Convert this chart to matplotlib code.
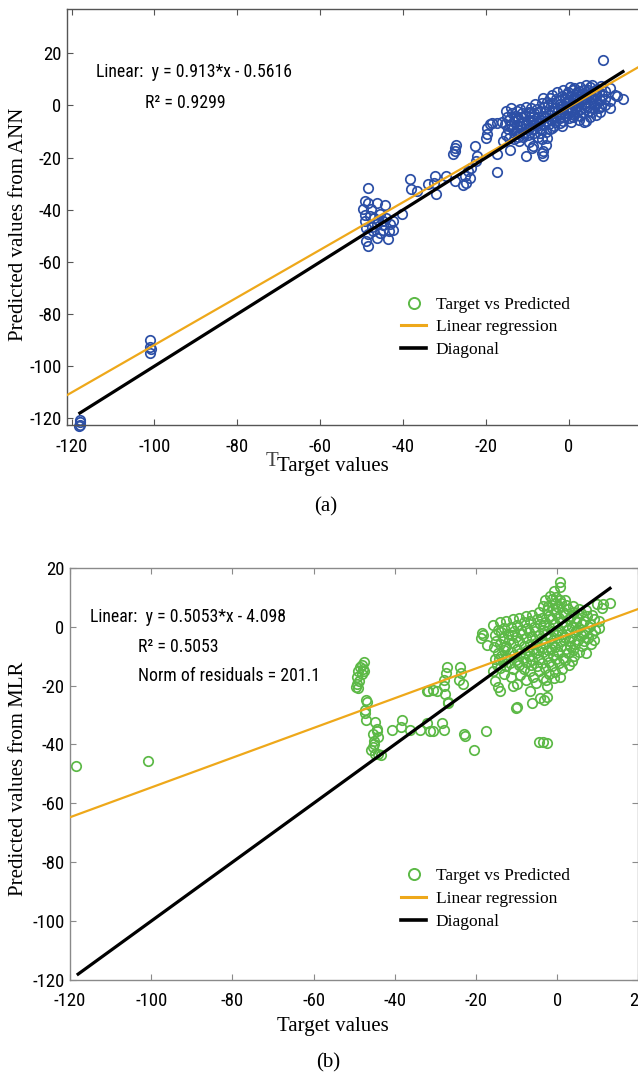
import matplotlib
matplotlib.use("Agg")
import matplotlib.pyplot as plt
from matplotlib import font_manager
from matplotlib.font_manager import FontProperties
from matplotlib.lines import Line2D

plt.rcParams["axes.unicode_minus"] = False

# ---- data ----
# (a) ANN: target vs predicted
ann_x = [-118, -118, -118.3, -118,
         -101, -101, -101, -100.8,
         -48.5, -49.3, -49.6, -49.3, -48.5, -47.7, -46.4, -44.4, -45.6, -49.3, -49, -48.5,
         -48.5, -47.3, -46.4, -44.9, -44.1, -43.2, -42.4, -43.6, -46.4, -44.9, -45.5, -40.4,
         -47, -48, -45, -46, -43.5, -47.5, -49, -42.5,
         -38.4, -38.2, -36.8, -34, -32.4, -32.5, -32, -29.6, -27.6, -27.2, -27.9, -27.4,
         -27.6, -25.1, -24.9, -24.3, -23.6, -22.7, -22.3, -22.5, -24, -25.5,
         -19.9, -19.7, -18.7, -17.5, -20.1, -16.2, -17.5, -17.5, -15.9, -19,
         -15.2, -14.9, -15.4, -14.8, -15.1,
         -14.1, -14.6, -14.2, -14.5, -14.3,
         -13.7, -13.3, -13.6, -13.2, -13.4,
         -12.5, -12.9, -12.6, -12.8, -12.4,
         -11.8, -12.2, -11.9, -12.1, -12,
         -11.4, -11, -11.3, -11.1,
         -10.3, -10.7, -10.4, -10.6, -10.3,
         -9.6, -10, -9.7, -9.9, -9.6,
         -9.2, -8.8, -9.1, -8.9, -9,
         -8.1, -8.5, -8.2, -8.4, -8.6,
         -7.8, -7.4, -7.7, -7.5,
         -6.6, -7, -6.7, -6.9, -6.6, -6.6,
         -6.2, -6, -6.4, -6.1, -6.2, -6.4,
         -5.3, -5.7, -5.4, -5.6, -5.4, -5.6,
         -4.6, -5, -4.7, -4.9, -4.6,
         -4.2, -3.8, -4.1, -3.9, -4.2,
         -3.1, -3.5, -3.2, -3.4,
         -2.8, -2.4, -2.7, -2.5, -2.2,
         -1.8, -2.2, -1.9, -2.1, -1.8,
         -1.5, -1.1, -1.4, -1.2, -1.5,
         -0.4, -0.8, -0.5, -0.7,
         0.2, -0.2, 0.1, -0.1, 0.2, 0,
         0.9, 0.5, 0.8, 0.6, 0.9,
         1.2, 1.6, 1.3, 1.5, 1.2,
         2.3, 1.9, 2.2, 2, 2.3,
         2.6, 3, 2.7, 2.9, 2.6,
         3.7, 3.3, 3.6, 3.4, 3.7,
         4, 4.4, 4.1, 4.3, 4.2,
         5.1, 4.7, 5, 4.8, 5.1,
         5.6, 6, 5.7, 5.9, 5.6,
         6.8, 6.4, 6.7, 6.5,
         7.1, 7.5, 7.2, 7.4,
         7.8, 8, 7.8,
         -13, -11.5, -10, -8.7, -7.2, -5.8, -4.4, -3, -1.7, -0.3, 1, 2.5,
         3.9, 5.3, 6.2, -14, -12.3, -9.4, -7, -3.7, 0.4, 2, 4.6, 6,
         8.2,
         8.7, 8.7, 8.7,
         9.8, 9.8, 9.8,
         11, 11.5, 13]
ann_y = [-121.5, -122.5, -123, -120.8,
         -90, -92.5, -95, -93.5,
         -31.6, -36.7, -39.9, -41.9, -37.3, -39.9, -37.4, -38, -41.8, -44.4, -47, -49.5,
         -54, -48.2, -45.6, -44.4, -43.1, -45.6, -47.6, -51.4, -50.8, -47.6, -49, -41.8,
         -43, -42.5, -46, -44, -48, -46.5, -52, -44.5,
         -28.4, -32.2, -32.9, -30.3, -27.1, -29.7, -34.1, -27.1, -16.3, -15, -18.8, -17.5,
         -29, -27.1, -29.7, -25.2, -23.9, -15.6, -19.4, -21.3, -28, -30.5,
         -11.1, -8.5, -6.6, -6.6, -12.4, -6.5, -18.8, -25.5, -13.7, -7.2,
         -2, -4.5, -7, -9, -11.5,
         -1, -5.5, -8, -12.5, -16.9,
         -3, -6, -8.5, -10.5, -13,
         -2, -4, -7.5, -10, -12,
         -1.5, -5, -8, -11, -13.7,
         -3, -6.5, -9, -12,
         -0.5, -4, -7, -10, -19.4,
         -2.5, -5.5, -8.5, -11.5, -14,
         -1, -4, -6, -9, -16.3,
         0.5, -3, -7, -10.5, -15.6,
         -1.5, -4.5, -8, -12,
         1, -2, -5.5, -9, -13, -18.2,
         2.9, -0.5, -4, -7.5, -17.5, -19.5,
         1.5, -2.5, -6, -10, -12.4, -15,
         3, 0, -3.5, -7, -9,
         4, 1, -2, -5, -8.5,
         2.5, -1, -4, -6.5,
         5, 2, -1.5, -3.5, -6.7,
         3.5, 0.5, -2.5, -5, -8,
         6, 3, 0, -3, -6,
         4.5, 1.5, -1, -4,
         7, 5, 2, -0.5, -2.5, -5,
         6, 3.5, 1, -2, -4.5,
         6.8, 4, 2, -1, -3.5,
         5.5, 3, 0, -2.5, -5.5,
         7, 4.5, 1.5, -1.5, -4,
         6, 3, 0.5, -3, -6.5,
         8, 5, 2.5, -0.5, -6,
         7, 4, 1, -2, -4.5,
         8, 5.5, 3, 0, -2.5,
         6.5, 3.5, 1, -3.5,
         5, 2, -1, -2.5,
         7.5, 4, -0.3,
         -5, -4.5, -9.5, -5.5, -6.5, -4.5, -5.5, -2.5, -1.5, 1, 0, 2.5,
         1, 2.5, 4.5, -7, -9.5, -3, -10.5, -8, -6.5, 5, 6, -1,
         17.6,
         5.5, 2.5, 0,
         6.8, 1.6, -0.9,
         4.2, 3.6, 2.3]

# (b) MLR: target vs predicted
mlr_x = [-118.6, -100.9,
         -48.5, -49.3, -49, -47.6, -49, -48.2, -48.8, -47.9, -49.2, -48, -47.5, -49.5,
         -47, -47.4, -46.9, -47.3, -47.2, -44.8, -44.4, -45.3, -45.2, -45.4, -44.8, -44.1,
         -43.5, -44.5, -45, -44.2, -45.8,
         -40.7, -38.3, -38.5, -36.2, -33.7, -32.1, -31.4, -30.7, -31.7, -29.6, -28, -28.4,
         -27.2, -27.5, -28, -27.8, -27.6, -27, -26.8, -24, -23.8, -24.2, -23.2,
         -23, -22.8, -20.4, -17.6, -32.1, -30.5,
         -18.5, -18.2, -17.3, -18.8,
         -15.7, -15.3, -15.6, -15.4, -15.7, -15.3,
         -14.6, -15, -14.7, -14.9, -14.6,
         -14.2, -13.8, -14.1, -13.9, -14.2, -14,
         -13, -13.4, -13.1, -13.3, -13,
         -12.6, -12.2, -12.5, -12.3, -12.6,
         -11.4, -11.8, -11.5, -11.7, -11.4,
         -11, -10.6, -10.9, -10.7, -11, -10.8,
         -9.8, -10.2, -9.9, -10.1, -9.8,
         -9.4, -9, -9.3, -9.1, -9.4, -9.2,
         -8.2, -8.6, -8.3, -8.5, -8.2,
         -7.8, -7.4, -7.7, -7.5, -7.8, -7.6,
         -6.6, -7, -6.7, -6.9, -6.6, -6.8,
         -6.2, -5.8, -6.1, -5.9, -6.2, -6,
         -5, -5.4, -5.1, -5.3, -5, -5.2,
         -4.6, -4.2, -4.5, -4.3, -4.6, -4.4,
         -3.4, -3.8, -3.5, -3.7, -3.4, -3.8, -3.6,
         -3, -2.6, -2.9, -2.7, -3, -2.6, -2.9, -2.8,
         -1.8, -2.2, -1.9, -2.1, -1.8, -2.2, -1.9, -2.1,
         -1.4, -1, -1.3, -1.1, -1.4, -1, -1.3,
         -0.2, -0.6, -0.3, -0.5, -0.2, -0.6, -0.3, -0.5,
         0.6, 0.2, 0.5, 0.3, 0.6, 0.2, 0.5,
         1, 1.4, 1.1, 1.3, 1, 1.4, 1.1,
         2.2, 1.8, 2.1, 1.9, 2.2, 1.8,
         2.6, 3, 2.7, 2.9, 2.6, 3,
         3.8, 3.4, 3.7, 3.5, 3.8, 3.6,
         4.2, 4.6, 4.3, 4.5, 4.2,
         5.4, 5, 5.3, 5.1, 5.4,
         5.8, 6.2, 5.9, 6.1,
         7, 6.6, 6.9, 6.7, 7,
         7.4, 7.8, 7.5,
         8.6, 8.2, 8.5, 8.3,
         9, 9.4, 9.1,
         -14.4, -12.9, -11.2, -9.6, -8, -6.4, -4.8, -3.2, -1.6, 0, 1.6, 3.2,
         4.8, 6.4, -0.8, 0.8, -2.4, 1.8, -0.9,
         9.8, 10.2, 10.2, 11, 11.4, 13,
         0.7, 0.7,
         -9.9, -10.1, -6.2, -4.2, -2.5, -3.3, -4.4, -2.5, -3.5]
mlr_y = [-47.4, -45.6,
         -13.6, -17, -21, -12, -15, -16, -18.5, -14.5, -19.5, -13, -15, -20.5,
         -25, -29.4, -25.5, -28.4, -31.8, -32.4, -34.7, -36.4, -38.7, -41, -43.2, -43.2,
         -43.5, -35.6, -40, -37.5, -42,
         -35.2, -31.8, -34, -35.2, -35.2, -32.9, -35.3, -35.3, -22, -22, -35.2, -32.9,
         -13.6, -15.9, -18, -20.1, -22.8, -26.1, -25.6, -13.6, -15.9, -18.2, -19.4,
         -36.4, -37, -42, -35.6, -22, -21.5,
         -2.2, -2.8, -6.1, -4,
         0.5, -3, -7, -11, -15, -18.5,
         -1, -5, -9, -13, -20.5,
         1.5, -2, -6, -10, -14, -22,
         -0.5, -4, -8, -12, -16,
         2, -2.5, -6.5, -10.5, -13.5,
         0, -4.5, -8.5, -12.5, -17,
         2.5, -1.5, -5.5, -9.5, -14.5, -20,
         0.5, -3.5, -7.5, -11.5, -19.5,
         3, -1, -5, -9, -13, -16.5,
         1.5, -2.5, -6.5, -10.5, -14.5,
         3.5, -0.5, -4, -8, -12, -18,
         2, -2, -6, -10, -15, -22,
         4, 0, -3.5, -7.5, -11.5, -17,
         2.5, -1.5, -5.5, -9, -13.5, -19,
         5, 1, -3, -7, -11, -15,
         7, 3, -1, -4.5, -8.5, -12.5, -17.5,
         9, 5.5, 1.5, -2.5, -6, -10, -14, -18,
         10.5, 7, 3.5, 0, -4, -8, -12, -16,
         9.5, 6, 2.5, -1.5, -5.5, -9.5, -13.5,
         10, 8, 4.5, 1, -3, -7, -11, -15.5,
         9, 6.5, 3, -1, -5, -8.5, -12.5,
         8, 5, 1.5, -2.5, -6.5, -10.5, -14.5,
         7.5, 4, 0.5, -3.5, -7.5, -11.5,
         6, 2.5, -1, -5, -9, -13,
         7, 3.5, 0, -4, -8, -11.8,
         5, 1.5, -2, -6, -10,
         6, 3, -0.5, -4.5, -8.5,
         4.5, 1, -3, -6.7,
         5.5, 2, -1.5, -5, -9,
         3.5, 0, -4,
         4, 1, -2.5, -6,
         2.5, -1, -4.5,
         -11, -7, -3, -12, -9, -13, -8, 0.5, -7.5, -2, -4.5, -6.5,
         -1, -2.5, -17.5, -17, -20, 9, 12,
         7.7, -0.4, 2, 6.4, 7.7, 8.1,
         15, 13.5,
         -27.2, -27.5, -26, -24.3, -23.8, -25, -39.1, -39.5, -39.3]

ann_slope, ann_icpt = 0.913, -0.5616
mlr_slope, mlr_icpt = 0.5053, -4.098
diag_range = [-118, 13]

ann_text = ["Linear:  y = 0.913*x - 0.5616", "R\u00b2 = 0.9299"]
mlr_text = ["Linear:  y = 0.5053*x - 4.098", "R\u00b2 = 0.5053", "Norm of residuals = 201.1"]
legend_labels = ["Target vs Predicted", "Linear regression", "Diagonal"]
ann_xticks = [-120, -100, -80, -60, -40, -20, 0]
mlr_xticks = [-120, -100, -80, -60, -40, -20, 0, 20]
yticks = [-120, -100, -80, -60, -40, -20, 0, 20]

BLUE = "#2c4fa6"
GREEN = "#5cb946"
YELLOW = "#eea81a"

W, H = 638, 1075
SERIF = ["Liberation Serif", "DejaVu Serif"]


def narrow_font():
    # the figure uses a narrow sans (Arial Narrow look); take what is installed
    fl = font_manager.fontManager.ttflist
    for f in fl:
        if f.name in ("Liberation Sans Narrow", "Arial Narrow", "Roboto Condensed"):
            if f.style == "normal" and f.weight in (400, "normal", "regular"):
                return f.fname, 12.8
    for f in fl:
        n = f.fname.lower()
        if "condensed" in n and "bold" not in n and "oblique" not in n and "italic" not in n:
            if "dejavusans" in n.replace("-", "").replace("_", ""):
                return f.fname, 12
    return font_manager.findfont("Liberation Sans"), 11.5


NARROW, NSIZE = narrow_font()


def nprop(size=None):
    return FontProperties(fname=NARROW, size=size or NSIZE)


fig = plt.figure(figsize=(W / 100, H / 100), dpi=100)


def px_axes(l, t, r, b):
    return fig.add_axes([l / W, 1 - b / H, (r - l) / W, (b - t) / H])


def fig_text(x, y, s, **kw):
    fig.text(x / W, 1 - y / H, s, **kw)


def style(ax, xlim, ylim, xticks, spine_col):
    ax.set_xlim(*xlim)
    ax.set_ylim(*ylim)
    ax.set_xticks(xticks)
    ax.set_yticks(yticks)
    ax.tick_params(direction="in", top=True, right=True, length=4.5, width=0.8,
                   color=spine_col)
    ax.tick_params(axis="x", pad=9)
    ax.tick_params(axis="y", pad=4)
    for lab in ax.get_xticklabels() + ax.get_yticklabels():
        lab.set_fontproperties(nprop(13.5))
    for sp in ax.spines.values():
        sp.set_color(spine_col)
        sp.set_linewidth(1.0)


def draw(ax, xs, ys, col, slope, icpt, xlim):
    ax.plot(xs, ys, "o", mfc="none", mec=col, ms=6.8, mew=1.25, clip_on=False, zorder=2)
    fx = [xlim[0], xlim[1]]
    ax.plot(fx, [slope * v + icpt for v in fx], color=YELLOW, lw=1.6, zorder=3)
    ax.plot(diag_range, diag_range, color="black", lw=2.3, zorder=4)


def legend(y_top):
    handles = [Line2D([], [], ls="none", marker="o", mfc="none", mec=GREEN, ms=8, mew=1.4),
               Line2D([], [], color=YELLOW, lw=2.2),
               Line2D([], [], color="black", lw=2.6)]
    fig.legend(handles, legend_labels, loc="upper left",
               bbox_to_anchor=(401 / W, 1 - y_top / H), frameon=False,
               prop={"family": SERIF, "size": 12.5}, handlelength=1.45,
               handletextpad=0.55, labelspacing=0.38, borderpad=0, borderaxespad=0)


# ---- (a) ANN ----
xa, ya = (-121.1, 20), (-122.7, 37)
ax1 = px_axes(67, 9, 652, 425.3)
style(ax1, xa, ya, ann_xticks, "#555555")
draw(ax1, ann_x, ann_y, BLUE, ann_slope, ann_icpt, xa)
legend(296.5)
fig_text(95.6, 71.7, ann_text[0], fontproperties=nprop(), va="center")
fig_text(145, 103, ann_text[1], fontproperties=nprop(), va="center")
ax1.set_ylabel("Predicted values from ANN", family=SERIF, fontsize=15)
ax1.yaxis.set_label_coords((28 - 67) / 585, (425.3 - 224) / 416.3)
fig_text(278, 462, "T", family=SERIF, fontsize=15, color="#444444", ha="right", va="center")
fig_text(333, 467, "Target values", family=SERIF, fontsize=15, ha="center", va="center")
fig_text(326, 507, "(a)", family=SERIF, fontsize=15, ha="center", va="center")

# ---- (b) MLR ----
xb, yb = (-120, 20), (-120, 20)
ax2 = px_axes(70, 567.7, 638.4, 980)
style(ax2, xb, yb, mlr_xticks, "#8a8a8a")
draw(ax2, mlr_x, mlr_y, GREEN, mlr_slope, mlr_icpt, xb)
legend(868)
fig_text(89.5, 617.3, mlr_text[0], fontproperties=nprop(), va="center")
fig_text(138.3, 646.7, mlr_text[1], fontproperties=nprop(), va="center")
fig_text(138.3, 676, mlr_text[2], fontproperties=nprop(), va="center")
ax2.set_ylabel("Predicted values from MLR", family=SERIF, fontsize=15)
ax2.yaxis.set_label_coords((28 - 70) / 568.4, (980 - 779) / 412.3)
fig_text(333, 1027, "Target values", family=SERIF, fontsize=15, ha="center", va="center")
fig_text(328, 1063, "(b)", family=SERIF, fontsize=15, ha="center", va="center")

fig.savefig("out.png", dpi=100)
